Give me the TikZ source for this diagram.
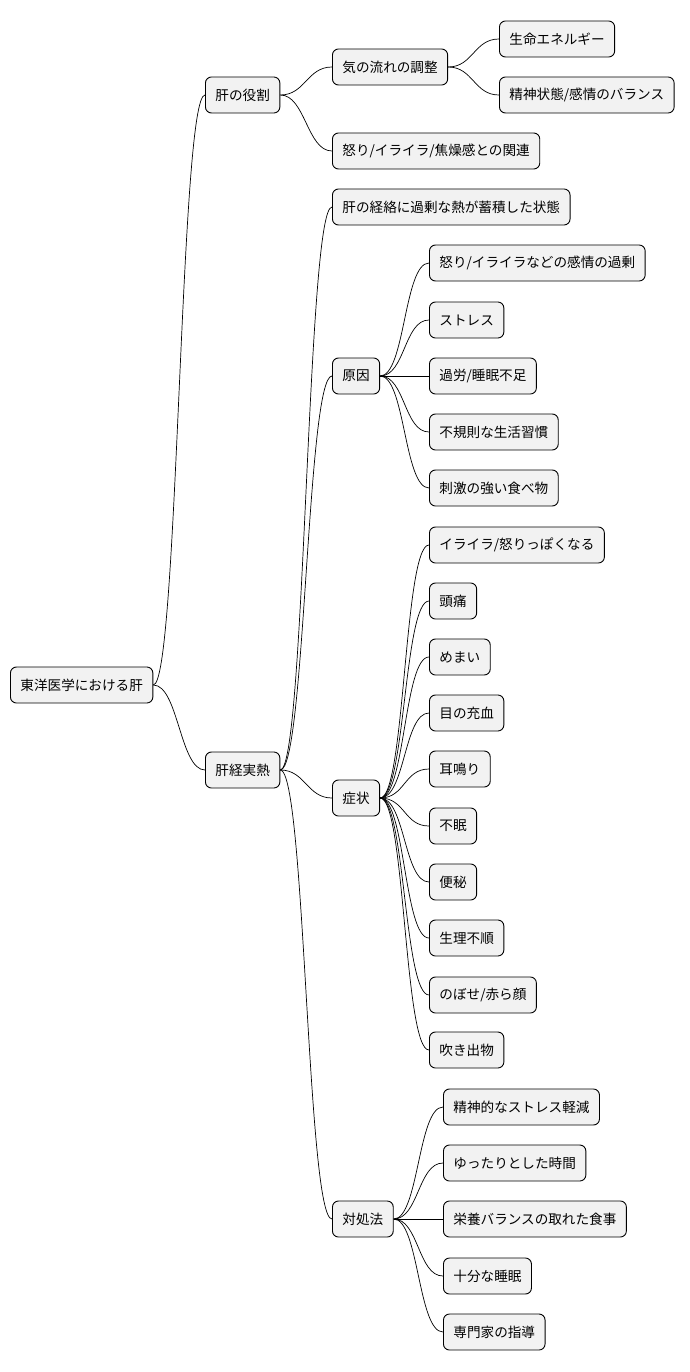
\documentclass[tikz,border=0pt]{standalone}
\usepackage{fontspec}
\setmainfont{Noto Sans CJK JP}
\usetikzlibrary{positioning}

\begin{document}
\begin{tikzpicture}[x=1pt, y=-1pt,
    topic/.style={draw, rectangle, rounded corners=6pt, fill=gray!10, line width=0.9pt,
      anchor=west, minimum height=36pt, inner xsep=10pt, font=\fontsize{13.6}{15}\selectfont},
    link/.style={line width=0.7pt}
]
\useasboundingbox (0,0) rectangle (689,1372);

% --- root and main branches ---
\node[topic] (root) at (10,685) {東洋医学における肝};
\node[topic] (role) at (205,95) {肝の役割};
\node[topic] (heat) at (205,770) {肝経実熱};

% --- 肝の役割 ---
\node[topic] (flow) at (332,67) {気の流れの調整};
\node[topic] (anger) at (332,151) {怒り/イライラ/焦燥感との関連};
\node[topic] (energy) at (499,39) {生命エネルギー};
\node[topic] (mind) at (499,95) {精神状態/感情のバランス};

% --- 肝経実熱 ---
\node[topic] (state) at (332,207) {肝の経絡に過剰な熱が蓄積した状態};
\node[topic] (cause) at (332,376) {原因};
\node[topic] (symp) at (332,798) {症状};
\node[topic] (cure) at (332,1219) {対処法};

\foreach \name/\y/\txt in {c1/263/{怒り/イライラなどの感情の過剰}, c2/320/ストレス,
    c3/376/{過労/睡眠不足}, c4/432/不規則な生活習慣, c5/488/刺激の強い食べ物}
  \node[topic] (\name) at (429,\y) {\txt};

\foreach \name/\y/\txt in {s1/545/{イライラ/怒りっぽくなる}, s2/601/頭痛, s3/657/めまい,
    s4/713/目の充血, s5/769/耳鳴り, s6/826/不眠, s7/882/便秘, s8/938/生理不順,
    s9/995/{のぼせ/赤ら顔}, s10/1050/吹き出物}
  \node[topic] (\name) at (429,\y) {\txt};

\foreach \name/\y/\txt in {t1/1107/精神的なストレス軽減, t2/1163/ゆったりとした時間,
    t3/1219/栄養バランスの取れた食事, t4/1276/十分な睡眠, t5/1332/専門家の指導}
  \node[topic] (\name) at (443,\y) {\txt};

% --- connectors ---
\foreach \a/\b in {root/role, root/heat, role/flow, role/anger, flow/energy, flow/mind,
    heat/state, heat/cause, heat/symp, heat/cure,
    cause/c1, cause/c2, cause/c3, cause/c4, cause/c5,
    symp/s1, symp/s2, symp/s3, symp/s4, symp/s5, symp/s6, symp/s7, symp/s8, symp/s9, symp/s10,
    cure/t1, cure/t2, cure/t3, cure/t4, cure/t5}
  \draw[link] (\a.east) .. controls +(25,0) and +(-25,0) .. (\b.west);

\end{tikzpicture}
\end{document}
